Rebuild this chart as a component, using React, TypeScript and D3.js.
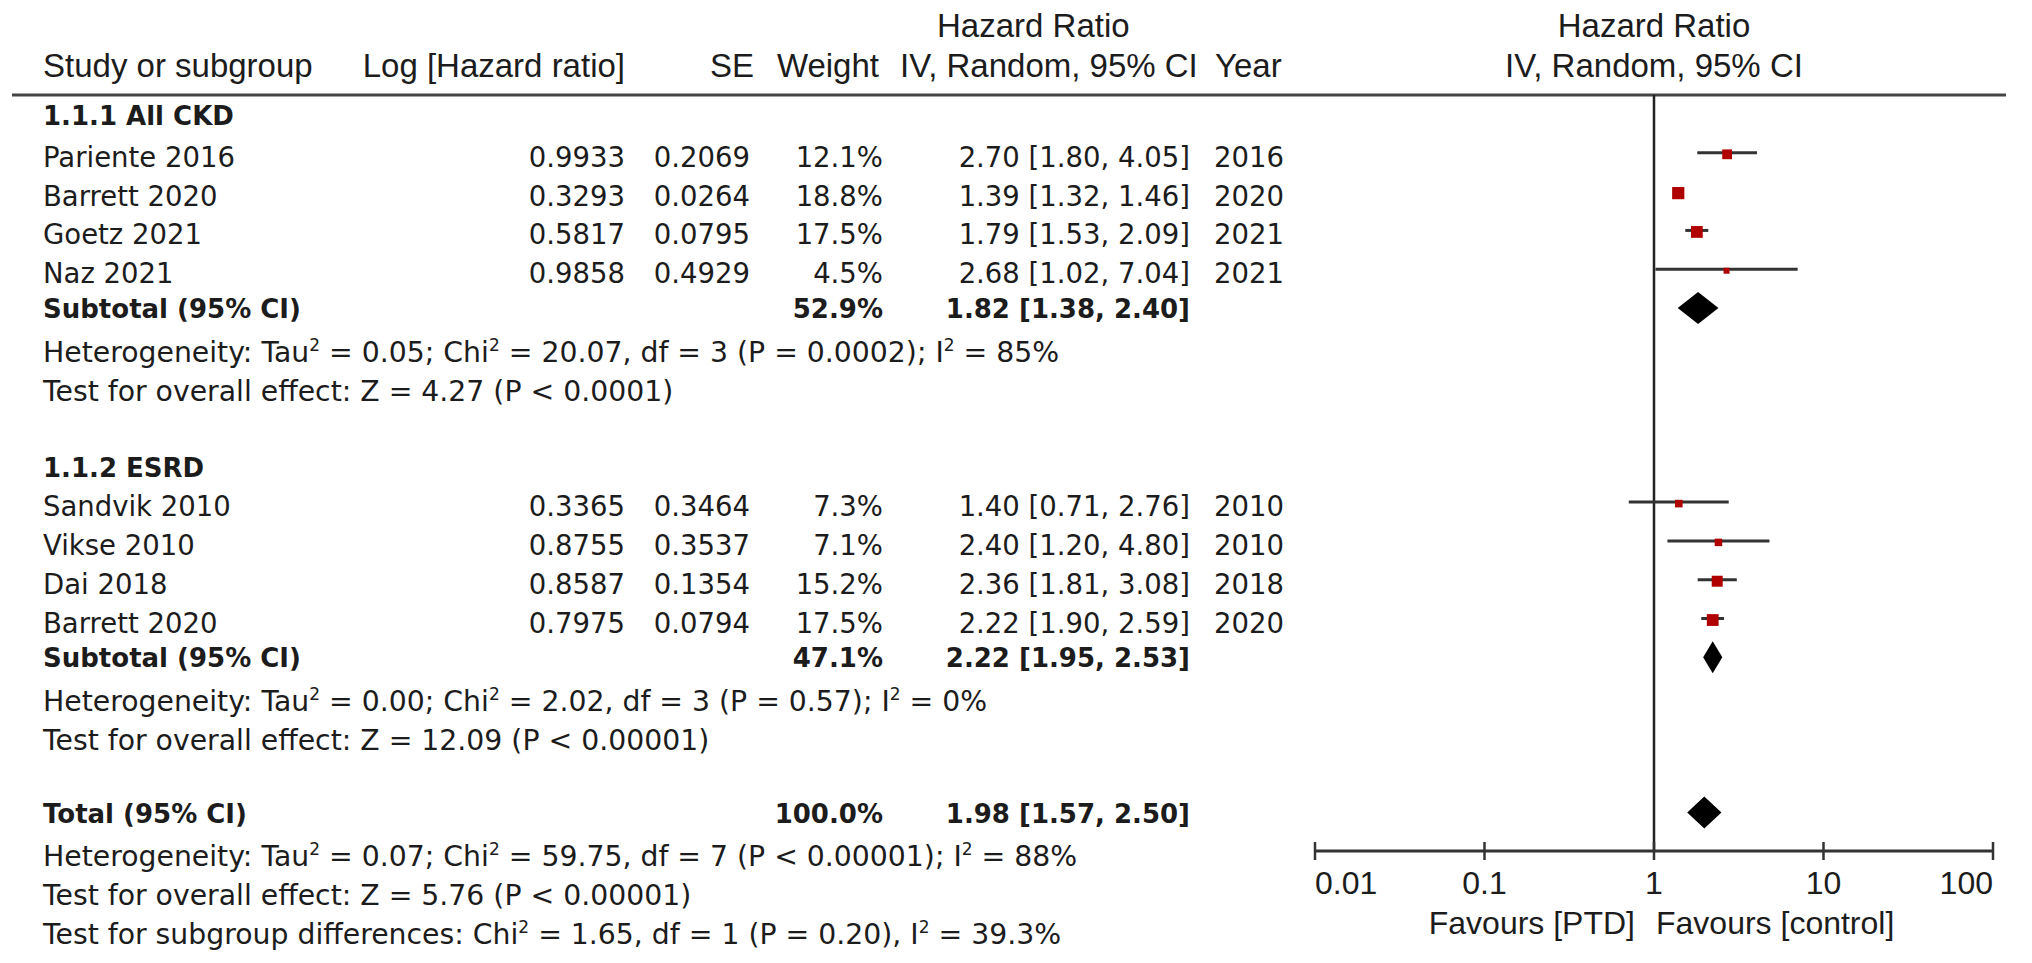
import React from "react";
import * as d3 from "d3";

// ---------- data ----------
const group1Title = "1.1.1 All CKD";
const group1Names = ["Pariente 2016", "Barrett 2020", "Goetz 2021", "Naz 2021"];
const group1LogHR = [0.9933, 0.3293, 0.5817, 0.9858];
const group1SE = [0.2069, 0.0264, 0.0795, 0.4929];
const group1Weight = [12.1, 18.8, 17.5, 4.5];
const group1HR = [2.7, 1.39, 1.79, 2.68];
const group1Lo = [1.8, 1.32, 1.53, 1.02];
const group1Hi = [4.05, 1.46, 2.09, 7.04];
const group1Year = [2016, 2020, 2021, 2021];
const group1Sub = { weight: 52.9, hr: 1.82, lo: 1.38, hi: 2.4 };
const group1Het = ["Heterogeneity: Tau", "^2", " = 0.05; Chi", "^2", " = 20.07, df = 3 (P = 0.0002); I", "^2", " = 85%"];
const group1Test = ["Test for overall effect: Z = 4.27 (P < 0.0001)"];

const group2Title = "1.1.2 ESRD";
const group2Names = ["Sandvik 2010", "Vikse 2010", "Dai 2018", "Barrett 2020"];
const group2LogHR = [0.3365, 0.8755, 0.8587, 0.7975];
const group2SE = [0.3464, 0.3537, 0.1354, 0.0794];
const group2Weight = [7.3, 7.1, 15.2, 17.5];
const group2HR = [1.4, 2.4, 2.36, 2.22];
const group2Lo = [0.71, 1.2, 1.81, 1.9];
const group2Hi = [2.76, 4.8, 3.08, 2.59];
const group2Year = [2010, 2010, 2018, 2020];
const group2Sub = { weight: 47.1, hr: 2.22, lo: 1.95, hi: 2.53 };
const group2Het = ["Heterogeneity: Tau", "^2", " = 0.00; Chi", "^2", " = 2.02, df = 3 (P = 0.57); I", "^2", " = 0%"];
const group2Test = ["Test for overall effect: Z = 12.09 (P < 0.00001)"];

const total = { weight: 100.0, hr: 1.98, lo: 1.57, hi: 2.5 };
const totalHet = ["Heterogeneity: Tau", "^2", " = 0.07; Chi", "^2", " = 59.75, df = 7 (P < 0.00001); I", "^2", " = 88%"];
const totalTest = ["Test for overall effect: Z = 5.76 (P < 0.00001)"];
const subgroupTest = ["Test for subgroup differences: Chi", "^2", " = 1.65, df = 1 (P = 0.20), I", "^2", " = 39.3%"];

const axisTicks = [0.01, 0.1, 1, 10, 100];
const axisTickLabels = ["0.01", "0.1", "1", "10", "100"];
const favoursLeft = "Favours [PTD]";
const favoursRight = "Favours [control]";

// ---------- styles ----------
const W = 2032;
const H = 963;
const HEAD = "'Liberation Sans', Arial, Helvetica, sans-serif";
const BODY = "'DejaVu Sans', Verdana, sans-serif";
const TXT = "#1c1c1c";
const RED = "#b00000";
const LINE = "#333";
const HEAD_SIZE = 33;
const BODY_SIZE = 27.5;
const NOTE_SIZE = 28.3;
const BOLD_SIZE = 26;

const x = d3.scaleLog().domain([0.01, 100]).range([1315, 1993]);
const y = d3.scaleLinear().domain([0, 21]).range([114, 929]);
const side = d3.scaleSqrt().domain([0, 18.8]).range([0, 12.2]);

const col = { name: 43, logHR: 625, se: 750, weight: 883, hr: 1190, year: 1214 };

function fmtCI(hr: number, lo: number, hi: number) {
  return `${hr.toFixed(2)} [${lo.toFixed(2)}, ${hi.toFixed(2)}]`;
}

function Rich({ segs, xx, yy }: { segs: string[]; xx: number; yy: number }) {
  const out: any[] = [];
  let prevSup = false;
  segs.forEach((s, i) => {
    if (s.startsWith("^")) {
      out.push(
        <tspan key={i} dy={-11} fontSize={17}>
          {s.slice(1)}
        </tspan>
      );
      prevSup = true;
    } else {
      out.push(
        <tspan key={i} dy={prevSup ? 11 : 0}>
          {s}
        </tspan>
      );
      prevSup = false;
    }
  });
  return (
    <text x={xx} y={yy} fontFamily={BODY} fontSize={NOTE_SIZE} fill={TXT}>
      {out}
    </text>
  );
}

type Study = { name: string; logHR: number; se: number; w: number; hr: number; lo: number; hi: number; year: number };

function makeStudies(n: string[], l: number[], s: number[], w: number[], h: number[], lo: number[], hi: number[], yr: number[]): Study[] {
  return n.map((name, i) => ({ name, logHR: l[i], se: s[i], w: w[i], hr: h[i], lo: lo[i], hi: hi[i], year: yr[i] }));
}

const g1 = makeStudies(group1Names, group1LogHR, group1SE, group1Weight, group1HR, group1Lo, group1Hi, group1Year);
const g2 = makeStudies(group2Names, group2LogHR, group2SE, group2Weight, group2HR, group2Lo, group2Hi, group2Year);

function StudyRow({ s, row }: { s: Study; row: number }) {
  const cy = y(row);
  const by = cy + 14;
  const sz = side(s.w);
  return (
    <g>
      <g fontFamily={BODY} fontSize={BODY_SIZE} fill={TXT}>
        <text x={col.name} y={by}>{s.name}</text>
        <text x={col.logHR} y={by} textAnchor="end">{s.logHR.toFixed(4)}</text>
        <text x={col.se} y={by} textAnchor="end">{s.se.toFixed(4)}</text>
        <text x={col.weight} y={by} textAnchor="end">{s.w.toFixed(1)}%</text>
        <text x={col.hr} y={by} textAnchor="end">{fmtCI(s.hr, s.lo, s.hi)}</text>
        <text x={col.year} y={by}>{s.year}</text>
      </g>
      <line x1={x(s.lo)} x2={x(s.hi)} y1={cy} y2={cy} stroke={LINE} strokeWidth={3} />
      <rect x={x(s.hr) - sz / 2} y={cy + 1.5 - sz / 2} width={sz} height={sz} fill={RED} />
    </g>
  );
}

function SummaryRow({ label, d, row }: { label: string; d: { weight: number; hr: number; lo: number; hi: number }; row: number }) {
  const cy = y(row);
  const by = cy + 10;
  const h = 16;
  const path = `M${x(d.lo)},${cy} L${x(d.hr)},${cy - h} L${x(d.hi)},${cy} L${x(d.hr)},${cy + h} Z`;
  return (
    <g>
      <g fontFamily={BODY} fontSize={BOLD_SIZE} fontWeight="bold" fill={TXT}>
        <text x={col.name} y={by}>{label}</text>
        <text x={col.weight} y={by} textAnchor="end">{d.weight.toFixed(1)}%</text>
        <text x={col.hr} y={by} textAnchor="end">{fmtCI(d.hr, d.lo, d.hi)}</text>
      </g>
      <path d={path} fill="#000" />
    </g>
  );
}

export default function App() {
  const axisY = 851;
  const headLineY = 95;
  const x1 = x(1);
  const [d0, d1] = x.range();
  const center = (d0 + d1) / 2;
  return (
    <svg width={W} height={H} style={{ position: "absolute", left: 0, top: 0, background: "#fff" }}>
      <rect x={0} y={0} width={W} height={H} fill="#fff" />
      {/* headers */}
      <g fontFamily={HEAD} fontSize={HEAD_SIZE} fill={TXT}>
        <text x={937} y={37}>Hazard Ratio</text>
        <text x={center} y={37} textAnchor="middle">Hazard Ratio</text>
        <text x={col.name} y={77}>Study or subgroup</text>
        <text x={col.logHR} y={77} textAnchor="end">Log [Hazard ratio]</text>
        <text x={754} y={77} textAnchor="end">SE</text>
        <text x={879} y={77} textAnchor="end">Weight</text>
        <text x={900} y={77}>IV, Random, 95% CI</text>
        <text x={1215} y={77}>Year</text>
        <text x={center} y={77} textAnchor="middle">IV, Random, 95% CI</text>
      </g>
      <line x1={12} x2={2006} y1={headLineY} y2={headLineY} stroke="#444" strokeWidth={3} />
      {/* vertical line of no effect */}
      <line x1={x1} x2={x1} y1={headLineY} y2={axisY} stroke="#222" strokeWidth={2.5} />

      {/* group 1 */}
      <text x={col.name} y={y(0) + 11} fontFamily={BODY} fontSize={BOLD_SIZE} fontWeight="bold" fill={TXT}>{group1Title}</text>
      {g1.map((s, i) => (
        <StudyRow key={"a" + i} s={s} row={1 + i} />
      ))}
      <SummaryRow label="Subtotal (95% CI)" d={group1Sub} row={5} />
      <Rich segs={group1Het} xx={col.name} yy={y(6) + 15} />
      <Rich segs={group1Test} xx={col.name} yy={y(7) + 15} />

      {/* group 2 */}
      <text x={col.name} y={y(9) + 14} fontFamily={BODY} fontSize={BOLD_SIZE} fontWeight="bold" fill={TXT}>{group2Title}</text>
      {g2.map((s, i) => (
        <StudyRow key={"b" + i} s={s} row={10 + i} />
      ))}
      <SummaryRow label="Subtotal (95% CI)" d={group2Sub} row={14} />
      <Rich segs={group2Het} xx={col.name} yy={y(15) + 15} />
      <Rich segs={group2Test} xx={col.name} yy={y(16) + 15} />

      {/* total */}
      <SummaryRow label="Total (95% CI)" d={total} row={18} />
      <Rich segs={totalHet} xx={col.name} yy={y(19) + 15} />
      <Rich segs={totalTest} xx={col.name} yy={y(20) + 15} />
      <Rich segs={subgroupTest} xx={col.name} yy={y(21) + 15} />

      {/* axis */}
      <line x1={d0} x2={d1} y1={axisY} y2={axisY} stroke="#333" strokeWidth={3} />
      {axisTicks.map((t, i) => (
        <g key={t}>
          <line x1={x(t)} x2={x(t)} y1={axisY - 9} y2={axisY + 9} stroke="#333" strokeWidth={2.5} />
          <text
            x={x(t)}
            y={894}
            fontFamily={HEAD}
            fontSize={32}
            fill={TXT}
            textAnchor={i === 0 ? "start" : i === axisTicks.length - 1 ? "end" : "middle"}
          >
            {axisTickLabels[i]}
          </text>
        </g>
      ))}
      <text x={x1 - 19} y={934} fontFamily={HEAD} fontSize={32} fill={TXT} textAnchor="end">{favoursLeft}</text>
      <text x={x1 + 2} y={934} fontFamily={HEAD} fontSize={32} fill={TXT}>{favoursRight}</text>
    </svg>
  );
}
